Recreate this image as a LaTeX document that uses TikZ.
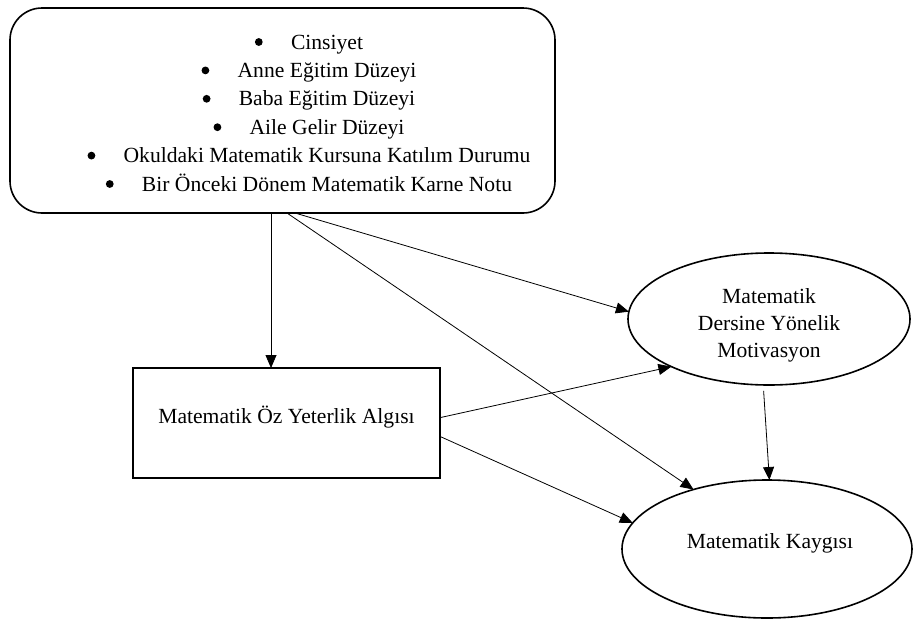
\documentclass[tikz,border=0pt]{standalone}
\usepackage{fontspec}
\setmainfont{Liberation Serif}
\usetikzlibrary{arrows.meta,shapes.geometric}
\begin{document}
\begin{tikzpicture}[x=1pt,y=-1pt,
  box/.style={draw,line width=1.6pt,inner sep=0pt,outer sep=0pt},
  txt/.style={anchor=base,inner sep=0pt,font=\fontsize{21.6}{26}\selectfont},
  conn/.style={line width=0.8pt,-{Triangle[length=13pt,width=11pt]}}]
\useasboundingbox (0,0) rectangle (913,619);
% shapes
\node[box,rounded corners=32pt,minimum width=545pt,minimum height=205pt] (top) at (282.5,110.5) {};
\node[box,rectangle,minimum width=307pt,minimum height=110pt] (rect) at (286.5,423) {};
\node[box,ellipse,minimum width=282pt,minimum height=132pt] (mot) at (769,319) {};
\node[box,ellipse,minimum width=290pt,minimum height=138pt] (kay) at (767,549) {};
% texts
\node[txt] (l1) at (327,49) {Cinsiyet};
\node[txt] (l2) at (327,77.4) {Anne Eğitim Düzeyi};
\node[txt] (l3) at (327,105.8) {Baba Eğitim Düzeyi};
\node[txt] (l4) at (327,134.2) {Aile Gelir Düzeyi};
\node[txt] (l5) at (327,162.6) {Okuldaki Matematik Kursuna Katılım Durumu};
\node[txt] (l6) at (327,191) {Bir Önceki Dönem Matematik Karne Notu};
\foreach \n in {l1,l2,l3,l4,l5,l6}
  \fill ([xshift=-32pt,yshift=7pt]\n.base west) circle[radius=3.9pt];
\node[txt] (rt) at (286.5,423) {Matematik Öz Yeterlik Algısı};
\node[txt] (m1) at (769,303) {Matematik};
\node[txt] (m2) at (769,330) {Dersine Yönelik};
\node[txt] (m3) at (769,357) {Motivasyon};
\node[txt] (kt) at (770,548) {Matematik Kaygısı};
% connectors
\draw[conn] ([xshift=261pt]top.south west) -- ([xshift=138pt]rect.north west);
\draw[conn] ([xshift=277pt]top.south west) -- (kay.141);
\draw[conn] ([xshift=285pt]top.south west) -- (mot.177);
\draw[conn] (rect.2) -- (mot.206);
\draw[conn] (rect.355.5) -- (kay.169);
\draw[conn,shorten <=6pt] (mot.265) -- (kay.88);
\end{tikzpicture}
\end{document}
